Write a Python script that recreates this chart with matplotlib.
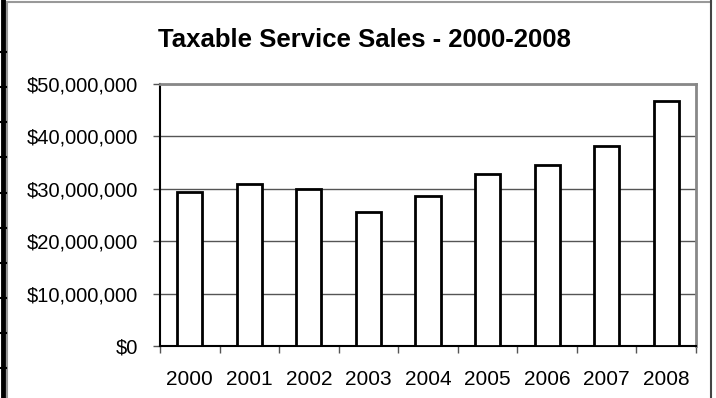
import matplotlib.pyplot as plt
from matplotlib.lines import Line2D
from matplotlib.ticker import FuncFormatter, MultipleLocator

plt.rcParams['font.family'] = ['Liberation Sans', 'DejaVu Sans']

years = ['2000', '2001', '2002', '2003', '2004', '2005', '2006', '2007', '2008']
sales = [29.4e6, 30.9e6, 29.9e6, 25.6e6, 28.7e6, 32.9e6, 34.6e6, 38.1e6, 46.7e6]

fig = plt.figure(figsize=(7.16, 3.98), dpi=100)
ax = fig.add_axes([160 / 716, 52 / 398, 536 / 716, 262 / 398])

x = range(len(years))
ax.bar(x, sales, width=0.42, color='white', edgecolor='black', linewidth=2, zorder=3)

ax.set_xlim(-0.5, len(years) - 0.5)
ax.set_ylim(0, 50e6)
ax.yaxis.set_major_locator(MultipleLocator(10e6))
ax.yaxis.set_major_formatter(FuncFormatter(lambda v, p: '${:,.0f}'.format(v)))
ax.grid(axis='y', color='#555555', linewidth=1, zorder=1)

ax.set_xticks(list(x))
ax.set_xticklabels(years)
ax.set_xticks([i + 0.5 for i in range(-1, len(years))], minor=True)
ax.tick_params(axis='x', which='major', length=0, pad=17, labelsize=15)
ax.tick_params(axis='x', which='minor', length=5, width=1, color='#555555')
ax.tick_params(axis='y', length=5, width=1, color='#555555', pad=11, labelsize=14.5)

for s in ['top', 'right']:
    ax.spines[s].set_color('#888888')
    ax.spines[s].set_linewidth(2)
ax.spines['left'].set_color('black')
ax.spines['left'].set_linewidth(1.5)
ax.spines['bottom'].set_color('black')
ax.spines['bottom'].set_linewidth(1.5)

fig.text(364 / 716, 1 - 40 / 398, 'Taxable Service Sales - 2000-2008',
         ha='center', va='center', fontsize=18.5, fontweight='bold')

# spreadsheet frame around the chart
fig.add_artist(Line2D([7 / 716, 711 / 716], [1 - 1.5 / 398, 1 - 1.5 / 398], color='#999999',
                      linewidth=1.5, transform=fig.transFigure))
fig.add_artist(Line2D([7 / 716, 7 / 716], [0, 1 - 1.5 / 398], color='#999999', linewidth=1.5,
                      transform=fig.transFigure))
fig.add_artist(Line2D([711 / 716, 711 / 716], [0, 1], color='#444444', linewidth=1.5,
                      transform=fig.transFigure))
fig.add_artist(Line2D([2.5 / 716, 2.5 / 716], [0, 1], color='black', linewidth=3.5,
                      transform=fig.transFigure))
for yy in [52, 87, 122, 157, 193, 228, 263, 298, 333, 368]:
    fig.add_artist(Line2D([0, 6 / 716], [1 - yy / 398, 1 - yy / 398], color='black',
                          linewidth=1.5, transform=fig.transFigure))

fig.savefig('out.png', dpi=100)
